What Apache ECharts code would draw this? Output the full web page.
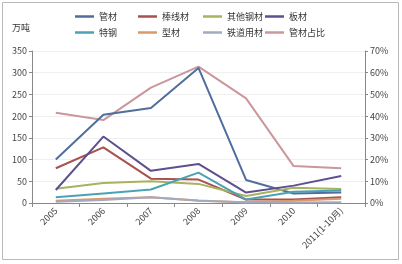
<!DOCTYPE html>
<html><head><meta charset="utf-8">
<script src="https://cdn.jsdelivr.net/npm/echarts@6/dist/echarts.min.js"></script>
<style>html,body{margin:0;padding:0;background:#fff}#c{width:402px;height:264px}</style>
</head><body><div id="c"></div>
<script>
var categories = ['2005','2006','2007','2008','2009','2010','2011(1-10月)'];
var seriesNames = ['管材','棒线材','其他钢材','板材','特钢','型材','铁道用材','管材占比'];
var guancai   = [100, 203, 219, 311, 53, 22, 24];
var bangxian  = [80, 128, 56, 54, 8, 8, 13];
var qita      = [33, 46, 50, 44, 16, 35, 32];
var bancai    = [30, 153, 74, 90, 24, 40, 62];
var tegang    = [13, 22, 31, 70, 8, 26, 29];
var xingcai   = [5, 10, 13, 5, 2, 5, 10];
var tiedao    = [3, 7, 13, 6, 1, 1, 2];
var zhanbi    = [41.6, 38.2, 53.1, 62.8, 48.2, 17, 16];
var leftTicks = [0, 50, 100, 150, 200, 250, 300, 350];
var rightTicks = [0, 10, 20, 30, 40, 50, 60, 70];

var colors = ['#4F6E9E','#A8514E','#A9B25E','#5E4F8E','#4BA2B4','#D99A6C','#A3AAC0','#C9979C'];
var font = '"Noto Sans CJK SC", "Noto Sans", sans-serif';
var values = [guancai, bangxian, qita, bancai, tegang, xingcai, tiedao, zhanbi];

var chart = echarts.init(document.getElementById('c'), null, {renderer:'canvas'});
var series = seriesNames.map(function(n, i){
  return {
    name: n, type: 'line', data: values[i], yAxisIndex: i === 7 ? 1 : 0,
    symbol: 'none', lineStyle: {width: 2, color: colors[i]}, itemStyle: {color: colors[i]},
    z: i === 7 ? 1 : 2, animation: false
  };
});
function legend(left, names){
  return {
    left: left, top: 12, orient: 'vertical', itemGap: 7, data: names,
    icon: 'rect', itemWidth: 19, itemHeight: 2.5,
    textStyle: {fontSize: 9, color: '#333', fontFamily: font}, padding: 0
  };
}
chart.setOption({
  animation: false,
  color: colors,
  grid: {left: 32, right: 37, top: 51, bottom: 61, containLabel: false},
  legend: [
    legend(75, ['管材','特钢']),
    legend(138, ['棒线材','型材']),
    legend(203, ['其他钢材','铁道用材']),
    legend(265, ['板材','管材占比'])
  ],
  graphic: [
    {type: 'rect', shape: {x: 2.5, y: 2.5, width: 396, height: 257}, style: {fill: 'none', stroke: '#b8b8b8', lineWidth: 1}, silent: true},
    {type: 'text', left: 12, top: 23, style: {text: '万吨', font: '9px ' + font, fill: '#333'}}
  ],
  xAxis: {
    type: 'category', data: categories, boundaryGap: true,
    axisLine: {lineStyle: {color: '#888'}},
    axisTick: {show: true, alignWithLabel: false, length: 4, lineStyle: {color: '#888'}},
    axisLabel: {rotate: 45, fontSize: 9, color: '#444', fontFamily: font, margin: 6, interval: 0}
  },
  yAxis: [
    {
      type: 'value', min: 0, max: 350, interval: 50,
      axisLine: {show: true, lineStyle: {color: '#888'}},
      axisTick: {show: true, length: 3, lineStyle: {color: '#888'}},
      splitLine: {show: true, lineStyle: {color: '#efefef'}},
      axisLabel: {fontSize: 9, color: '#444', fontFamily: font, margin: 5,
        formatter: function(v){ return leftTicks.indexOf(v) >= 0 ? String(v) : ''; }}
    },
    {
      type: 'value', min: 0, max: 70, interval: 10, position: 'right',
      axisLine: {show: true, lineStyle: {color: '#888'}},
      axisTick: {show: true, length: 3, lineStyle: {color: '#888'}},
      splitLine: {show: false},
      axisLabel: {fontSize: 9, color: '#444', fontFamily: font, margin: 5,
        formatter: function(v){ return rightTicks.indexOf(v) >= 0 ? v + '%' : ''; }}
    }
  ],
  series: series
});
</script>
</body></html>
